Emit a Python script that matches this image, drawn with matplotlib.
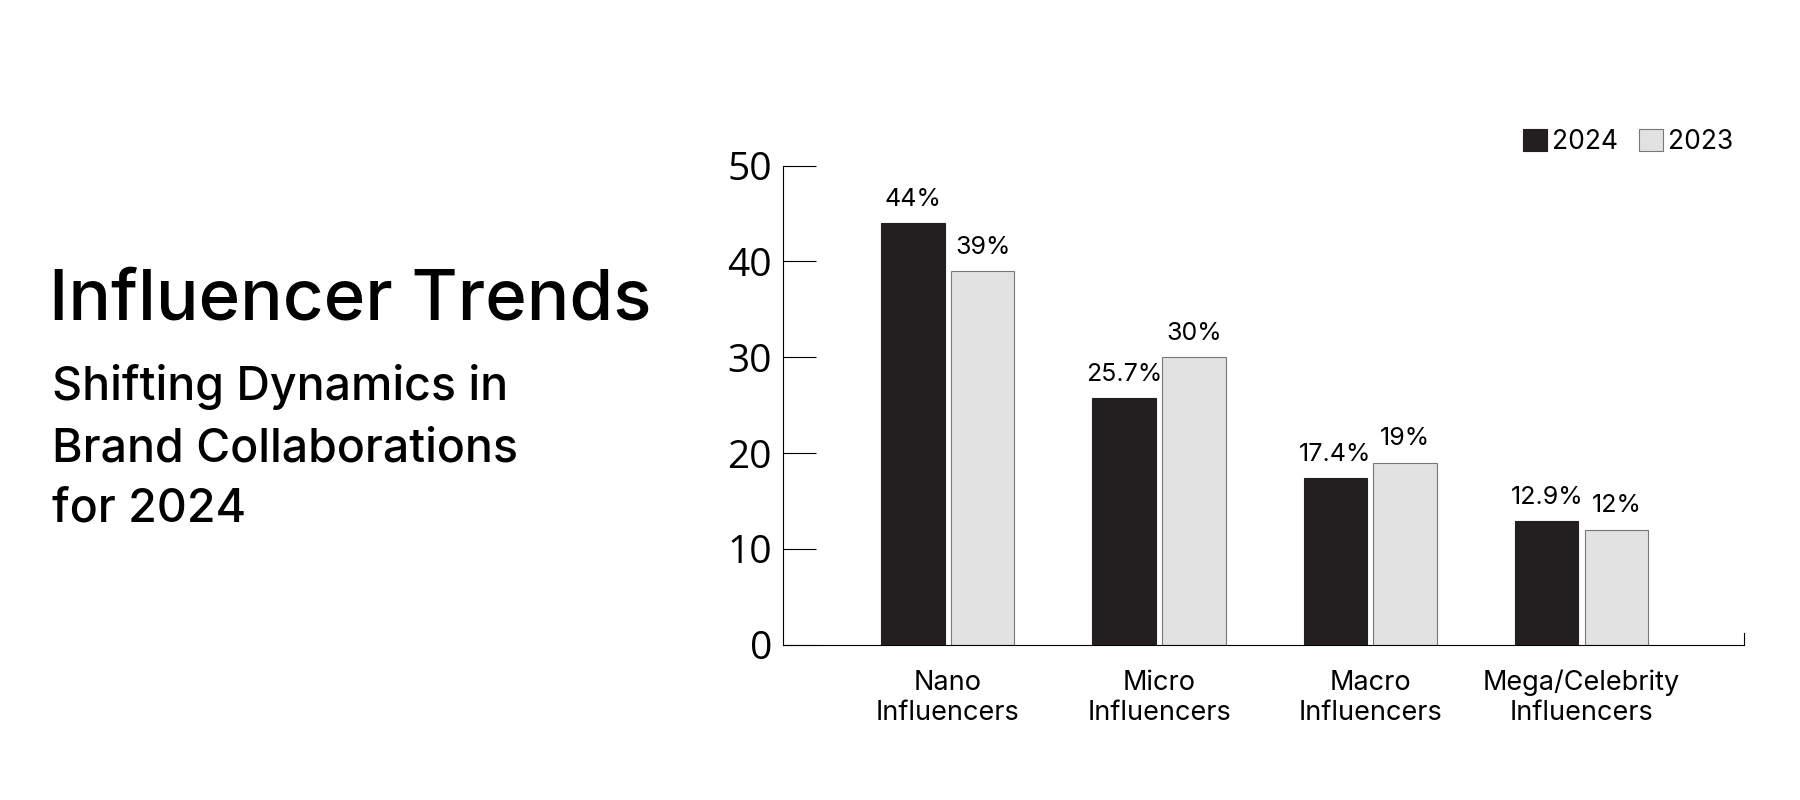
import matplotlib
matplotlib.use('Agg')
import matplotlib.pyplot as plt
import numpy as np

categories = ["Nano\nInfluencers", "Micro\nInfluencers", "Macro\nInfluencers", "Mega/Celebrity\nInfluencers"]
values_2024 = [44, 25.7, 17.4, 12.9]
values_2023 = [39, 30, 19, 12]
labels_2024 = ["44%", "25.7%", "17.4%", "12.9%"]
labels_2023 = ["39%", "30%", "19%", "12%"]
yticks = [0, 10, 20, 30, 40, 50]

plt.rcParams['font.family'] = ['Inter', 'DejaVu Sans']

fig = plt.figure(figsize=(18, 8), dpi=100)
ax = fig.add_axes([0.435, 0.194, 0.534, 0.599])

x = np.arange(len(categories))
w = 0.3
off = 0.165
b1 = ax.bar(x - off, values_2024, w, color='#231f20', edgecolor='#231f20', linewidth=0.8, label='2024')
b2 = ax.bar(x + off, values_2023, w, color='#e2e2e3', edgecolor='#777777', linewidth=0.8, label='2023')

for rect, lab in zip(b1, labels_2024):
    ax.text(rect.get_x() + rect.get_width() / 2, rect.get_height() + 1.3, lab,
            ha='center', va='bottom', fontsize=18)
for rect, lab in zip(b2, labels_2023):
    ax.text(rect.get_x() + rect.get_width() / 2, rect.get_height() + 1.3, lab,
            ha='center', va='bottom', fontsize=18)

ax.set_xlim(-0.78, 3.77)
ax.set_ylim(0, 50)
ax.set_yticks(yticks)
ax.set_yticklabels([str(t) for t in yticks], fontsize=28, family=['Open Sans', 'DejaVu Sans'])
ax.set_xticks(x)
ax.set_xticklabels(categories, fontsize=19.5, linespacing=1.2)
ax.tick_params(axis='x', length=0, pad=18)
ax.tick_params(axis='y', direction='in', length=24, width=0.8, pad=8)
for s in ['top', 'right']:
    ax.spines[s].set_visible(False)
for s in ['left', 'bottom']:
    ax.spines[s].set_linewidth(0.8)
ax.plot([3.77, 3.77], [0, 1.2], color='black', lw=0.8, clip_on=False)

ax.legend(loc='lower right', bbox_to_anchor=(1.0, 1.0), ncol=2, frameon=False,
          fontsize=19, handlelength=0.9, handleheight=0.9, handletextpad=0.2,
          columnspacing=0.8, borderaxespad=0.0)

fig.text(0.027, 0.624, "Influencer Trends", fontsize=51, fontweight='medium', va='center', ha='left')
fig.text(0.029, 0.44, "Shifting Dynamics in\nBrand Collaborations\nfor 2024", fontsize=33.5,
         fontweight='medium', va='center', ha='left', linespacing=1.5)

fig.savefig('out.png', dpi=100, facecolor='white')
